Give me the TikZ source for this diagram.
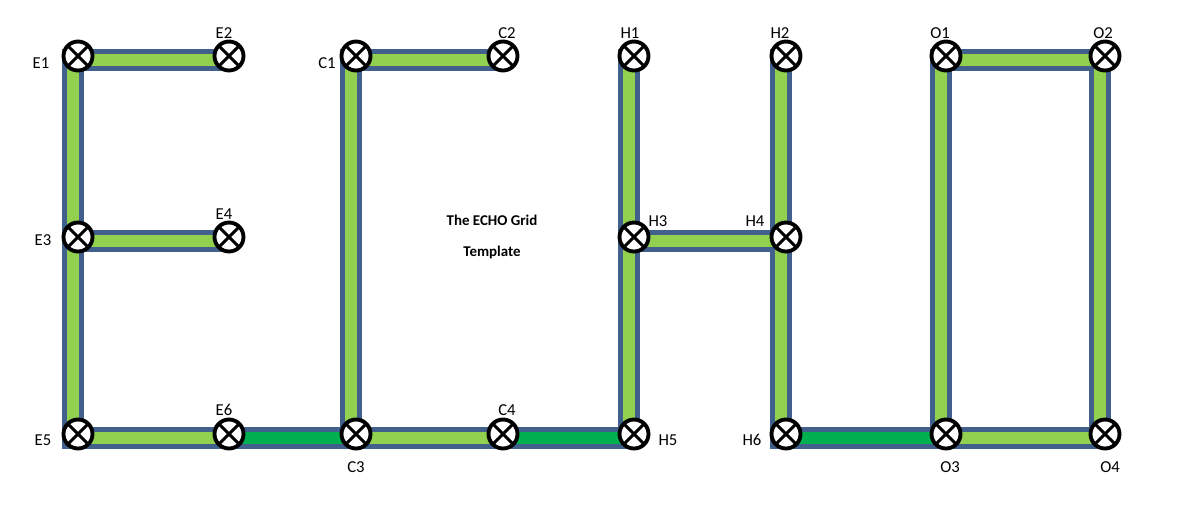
\documentclass[tikz,border=0pt]{standalone}
\usepackage{fontspec}
\setmainfont{Carlito}
\usepackage{tikz}
\usetikzlibrary{positioning, backgrounds}
\usepackage{xcolor}
\definecolor{barBlue}{HTML}{41618C}
\definecolor{barLight}{HTML}{92D050}
\definecolor{barDark}{HTML}{00B050}

\begin{document}
\begin{tikzpicture}[x=0.02cm, y=-0.02cm,
      junction/.style={circle, draw=black, line width=2.2pt, fill=white, minimum size=0.58cm, inner sep=0pt,
        path picture={\draw[line width=1.7pt]
          (path picture bounding box.north west) -- (path picture bounding box.south east)
          (path picture bounding box.north east) -- (path picture bounding box.south west);}},
      lbl/.style={font=\fontsize{9.5}{11}\selectfont, inner sep=0pt},
      heading/.style={font=\fontsize{8.5}{10}\selectfont\bfseries, inner sep=0pt},
      barEdge/.style={line width=0.44cm, barBlue, line cap=rect},
      barLightFill/.style={line width=0.25cm, barLight, line cap=rect},
      barDarkFill/.style={line width=0.25cm, barDark, line cap=rect}
    ]
      \useasboundingbox (0,0) rectangle (1200,505);

      % junctions
      \node[junction] (E1) at (78,56) {};
      \node[junction] (E2) at (229,56) {};
      \node[junction] (E3) at (78,237) {};
      \node[junction] (E4) at (229,237) {};
      \node[junction] (E5) at (78,434) {};
      \node[junction] (E6) at (229,434) {};
      \node[junction] (C1) at (356,56) {};
      \node[junction] (C2) at (503,56) {};
      \node[junction] (C3) at (356,434) {};
      \node[junction] (C4) at (503,434) {};
      \node[junction] (H1) at (634,56) {};
      \node[junction] (H3) at (634,237) {};
      \node[junction] (H5) at (634,434) {};
      \node[junction] (H2) at (786,56) {};
      \node[junction] (H4) at (786,237) {};
      \node[junction] (H6) at (786,434) {};
      \node[junction] (O1) at (946,56) {};
      \node[junction] (O2) at (1105,56) {};
      \node[junction] (O3) at (946,434) {};
      \node[junction] (O4) at (1105,434) {};

      % bars
      \begin{pgfonlayer}{background}
        \foreach \a/\b in {E1/E2, E1/E3, E3/E4, E3/E5, E5/E6, E6/C3, C1/C2, C1/C3, C3/C4, C4/H5,
                           H1/H3, H3/H5, H3/H4, H2/H4, H4/H6, H6/O3, O1/O2, O1/O3, O2/O4, O3/O4}
          \draw[barEdge] ([shift={(-5,4)}]\a.center) -- ([shift={(-5,4)}]\b.center);
        \foreach \a/\b in {E1/E2, E1/E3, E3/E4, E3/E5, E5/E6, C1/C2, C1/C3, C3/C4,
                           H1/H3, H3/H5, H3/H4, H2/H4, H4/H6, O1/O2, O1/O3, O2/O4, O3/O4}
          \draw[barLightFill] ([shift={(-5,4)}]\a.center) -- ([shift={(-5,4)}]\b.center);
        \foreach \a/\b in {E6/C3, C4/H5, H6/O3}
          \draw[barDarkFill] ([shift={(-5,4)}]\a.center) -- ([shift={(-5,4)}]\b.center);
      \end{pgfonlayer}

      % labels
      \node[lbl] (lE1) at (41,63) {E1};
      \node[lbl] (lE2) at (224,33) {E2};
      \node[lbl] (lE3) at (43,240) {E3};
      \node[lbl] (lE4) at (224,214) {E4};
      \node[lbl] (lE5) at (43,440) {E5};
      \node[lbl] (lE6) at (224,410) {E6};
      \node[lbl] (lC1) at (327,63) {C1};
      \node[lbl] (lC2) at (507,33) {C2};
      \node[lbl] (lC3) at (356,467) {C3};
      \node[lbl] (lC4) at (507,410) {C4};
      \node[lbl] (lH1) at (630,33) {H1};
      \node[lbl] (lH2) at (780,33) {H2};
      \node[lbl] (lH3) at (658,221) {H3};
      \node[lbl] (lH4) at (755,221) {H4};
      \node[lbl] (lH5) at (668,440) {H5};
      \node[lbl] (lH6) at (752,440) {H6};
      \node[lbl] (lO1) at (940,33) {O1};
      \node[lbl] (lO2) at (1103,33) {O2};
      \node[lbl] (lO3) at (950,467) {O3};
      \node[lbl] (lO4) at (1110,467) {O4};

      \node[heading] (title) at (492,220) {The ECHO Grid};
      \node[heading] (subtitle) at (492,252) {Template};
    \end{tikzpicture}
\end{document}
